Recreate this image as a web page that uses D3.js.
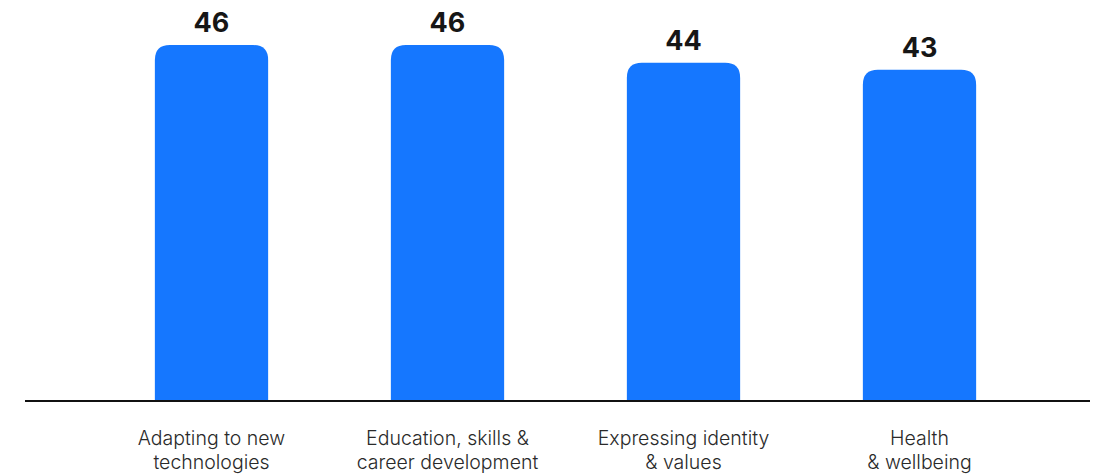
<!DOCTYPE html>
<html><head><meta charset="utf-8">
<script src="https://cdn.jsdelivr.net/npm/d3@7"></script>
<style>body{margin:0;background:#fff}svg{display:block}</style>
</head><body>
<svg id="c" width="1101" height="475"></svg>
<script>
const categories = ["Adapting to new|technologies","Education, skills &|career development","Expressing identity|& values","Health|& wellbeing"];
const values = [46.1, 46.1, 43.8, 42.9];
const valueLabels = ["46","46","44","43"];

const W = 1101, H = 475;
const svg = d3.select("#c");
const baseY = 400;
const step = 236;
const x = d3.scaleBand().domain(categories).range([211.5 - step/2, 211.5 + step*3.5]).paddingInner(0.52).paddingOuter(0.26);
const y = d3.scaleLinear().domain([0, 46.1]).range([baseY, 45]);
const r = 15;

function barPath(x0, w, yt, yb){
  const rr = Math.min(r, w/2, (yb-yt));
  return `M${x0},${yb}V${yt+rr}Q${x0},${yt} ${x0+rr},${yt}H${x0+w-rr}Q${x0+w},${yt} ${x0+w},${yt+rr}V${yb}Z`;
}

svg.selectAll("path.bar").data(values).join("path").attr("class","bar")
  .attr("d",(d,i)=>barPath(x(categories[i]), x.bandwidth(), y(d), baseY+1))
  .attr("fill","#1577FF");

svg.append("line").attr("x1",25).attr("x2",1090).attr("y1",baseY+1).attr("y2",baseY+1)
  .attr("stroke","#111").attr("stroke-width",2);

svg.selectAll("text.val").data(values).join("text").attr("class","val")
  .attr("x",(d,i)=>x(categories[i])+x.bandwidth()/2)
  .attr("y",d=>y(d)-13)
  .attr("text-anchor","middle")
  .attr("font-family","Inter, 'Noto Sans', sans-serif").attr("font-weight",700).attr("font-size",27)
  .attr("fill","#161616")
  .text((d,i)=>valueLabels[i]);

const lab = svg.selectAll("text.cat").data(categories).join("text").attr("class","cat")
  .attr("text-anchor","middle")
  .attr("font-family","Inter, 'Noto Sans', sans-serif").attr("font-size",19.5).attr("font-weight",300)
  .attr("fill","#2a2a2a");
lab.each(function(d,i){
  const t = d3.select(this);
  const cx = x(d)+x.bandwidth()/2;
  d.split("|").forEach((s,j)=>{
    t.append("tspan").attr("x",cx).attr("y",445+j*24).text(s);
  });
});
</script>
</body></html>
